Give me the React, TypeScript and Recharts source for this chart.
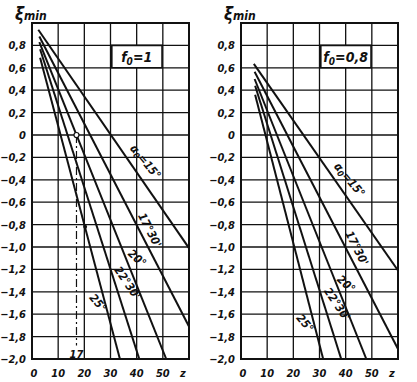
import React from "react";
import {
  LineChart,
  Line,
  XAxis,
  YAxis,
  CartesianGrid,
  ReferenceArea,
  ReferenceLine,
  ReferenceDot,
} from "recharts";

// axes
const Z_TICKS = [0, 10, 20, 30, 40, 50, 60];
const Z_LABELS = ["0", "10", "20", "30", "40", "50", "z"];
const XI_TICKS = [-2, -1.8, -1.6, -1.4, -1.2, -1, -0.8, -0.6, -0.4, -0.2, 0, 0.2, 0.4, 0.6, 0.8, 1];
const XI_LABELS = [
  "−2,0", "−1,8", "−1,6", "−1,4", "−1,2", "−1,0", "−0,8", "−0,6", "−0,4", "−0,2",
  "0", "0,2", "0,4", "0,6", "0,8", "",
];

// pressure angle of each line
const ALPHAS = ["15°", "17°30'", "20°", "22°30'", "25°"];

// f0 = 1 (left panel): first and last point of each line
const F1_START_Z = [2.4, 2.8, 2.8, 3.1, 3.1];
const F1_START_XI = [0.94, 0.88, 0.83, 0.765, 0.69];
const F1_END_Z = [60, 60, 51.3, 41, 33.6];
const F1_END_XI = [-1.01, -1.71, -2, -2, -2];

// f0 = 0,8 (right panel)
const F08_START_Z = [4.9, 5.2, 5.2, 5.4, 5.4];
const F08_START_XI = [0.635, 0.565, 0.5, 0.44, 0.36];
const F08_END_Z = [60, 60, 47.9, 38.3, 31.4];
const F08_END_XI = [-1.21, -1.91, -2, -2, -2];

// worked example on the left panel: z = 17
const EXAMPLE_Z = 17;

const FONT = "'Liberation Sans Narrow', 'DejaVu Sans Condensed', sans-serif";

type LabelPos = { z: number; xi: number; angle: number };

const LEFT_LABELS: LabelPos[] = [
  { z: 43.4, xi: -0.24, angle: 50 },
  { z: 45, xi: -0.85, angle: 63 },
  { z: 40.2, xi: -1.1, angle: 42 },
  { z: 36.5, xi: -1.32, angle: 56 },
  { z: 25.3, xi: -1.5, angle: 50 },
];

const RIGHT_LABELS: LabelPos[] = [
  { z: 41.5, xi: -0.4, angle: 50 },
  { z: 44.3, xi: -1.01, angle: 63 },
  { z: 40.2, xi: -1.33, angle: 42 },
  { z: 36.8, xi: -1.51, angle: 56 },
  { z: 24.5, xi: -1.68, angle: 50 },
];

function buildLines(sz: number[], sxi: number[], ez: number[], exi: number[]) {
  return ALPHAS.map((a, i) => ({
    name: a,
    points: [
      { z: sz[i], xi: sxi[i] },
      { z: ez[i], xi: exi[i] },
    ],
  }));
}

const textStyle = {
  fontFamily: FONT,
  fontStyle: "italic" as const,
  fontWeight: 700,
  fill: "#111",
};

function XTick(props: any) {
  const { x, y, payload } = props;
  const i = Z_TICKS.indexOf(payload.value);
  const shift = payload.value === 60 ? -6 : payload.value === 0 ? 2 : 0;
  return (
    <text x={x + shift} y={y + 10} textAnchor="middle" fontSize={11} style={textStyle}>
      {Z_LABELS[i]}
    </text>
  );
}

function YTick(props: any) {
  const { x, y, payload } = props;
  const i = XI_TICKS.findIndex((t) => Math.abs(t - payload.value) < 1e-6);
  return (
    <text x={x} y={y + 4} textAnchor="end" fontSize={11} style={textStyle}>
      {XI_LABELS[i]}
    </text>
  );
}

function lineLabel(text: string, angle: number, first: boolean) {
  return (p: any) => (
    <text
      x={p.cx}
      y={p.cy}
      textAnchor="middle"
      dominantBaseline="central"
      fontSize={11.5}
      transform={`rotate(${angle} ${p.cx} ${p.cy})`}
      style={textStyle}
    >
      {first ? (
        <>
          α<tspan fontSize={8.5} dy={3}>0</tspan>
          <tspan dy={-3}>={text}</tspan>
        </>
      ) : (
        text
      )}
    </text>
  );
}

function boxLabel(f0: string) {
  return (p: any) => (
    <text x={p.cx} y={p.cy + 5} textAnchor="middle" fontSize={14} style={textStyle}>
      f<tspan fontSize={10} dy={3}>0</tspan>
      <tspan dy={-3}>={f0}</tspan>
    </text>
  );
}

interface PanelProps {
  width: number;
  left: number;
  f0: string;
  lines: { name: string; points: { z: number; xi: number }[] }[];
  labels: LabelPos[];
  example?: boolean;
}

function Panel({ width, left, f0, lines, labels, example }: PanelProps) {
  return (
    <div style={{ position: "relative", width, height: 382 }}>
      <div
        style={{
          position: "absolute",
          left: left + 13,
          top: 4,
          fontFamily: FONT,
          fontStyle: "italic",
          fontWeight: 700,
          color: "#111",
          whiteSpace: "nowrap",
        }}
      >
        <span style={{ fontSize: 17 }}>ξ</span>
        <span style={{ fontSize: 12 }}>min</span>
      </div>
      <LineChart width={width} height={382} margin={{ left, right: 19, top: 23, bottom: 3 }}>
        <CartesianGrid stroke="#111" strokeWidth={1.3} />
        <XAxis
          dataKey="z"
          type="number"
          domain={[0, 60]}
          ticks={Z_TICKS}
          allowDataOverflow
          height={20}
          tickLine={false}
          axisLine={{ stroke: "#111", strokeWidth: 2 }}
          tick={<XTick />}
          interval={0}
        />
        <YAxis
          type="number"
          domain={[-2, 1]}
          ticks={XI_TICKS}
          allowDataOverflow
          width={30}
          tickLine={false}
          tickSize={0}
          tickMargin={6}
          axisLine={{ stroke: "#111", strokeWidth: 2 }}
          tick={<YTick />}
          interval={0}
        />
        <ReferenceArea x1={0} x2={60} y1={-2} y2={1} fill="none" stroke="#111" strokeWidth={2} />
        <ReferenceArea
          x1={30.5}
          x2={49.7}
          y1={0.6}
          y2={0.8}
          fill="#fff"
          fillOpacity={1}
          stroke="#111"
          strokeWidth={1.6}
        />
        <ReferenceDot x={40} y={0.7} r={0} shape={boxLabel(f0)} />
        {example && (
          <ReferenceLine
            segment={[
              { x: EXAMPLE_Z, y: 0 },
              { x: EXAMPLE_Z, y: -1.88 },
            ]}
            stroke="#111"
            strokeWidth={1.2}
            strokeDasharray="8 3 2 3"
          />
        )}
        {lines.map((l) => (
          <Line
            key={l.name}
            data={l.points}
            dataKey="xi"
            type="linear"
            stroke="#111"
            strokeWidth={2}
            dot={false}
            isAnimationActive={false}
          />
        ))}
        {example && (
          <ReferenceDot x={EXAMPLE_Z} y={0} r={2.5} fill="#fff" stroke="#111" strokeWidth={1.2} />
        )}
        {example && <ReferenceDot x={20.3} y={-0.82} r={2} fill="#111" stroke="none" />}
        {example && (
          <ReferenceDot
            x={EXAMPLE_Z}
            y={-1.955}
            r={0}
            shape={(p: any) => (
              <text x={p.cx} y={p.cy + 4} textAnchor="middle" fontSize={11} style={textStyle}>
                17
              </text>
            )}
          />
        )}
        {labels.map((lb, i) => (
          <ReferenceDot
            key={ALPHAS[i]}
            x={lb.z}
            y={lb.xi}
            r={0}
            shape={lineLabel(ALPHAS[i], lb.angle, i === 0)}
          />
        ))}
      </LineChart>
    </div>
  );
}

export default function App() {
  const leftLines = buildLines(F1_START_Z, F1_START_XI, F1_END_Z, F1_END_XI);
  const rightLines = buildLines(F08_START_Z, F08_START_XI, F08_END_Z, F08_END_XI);
  return (
    <div
      style={{
        position: "absolute",
        left: 0,
        top: 0,
        width: 417,
        height: 382,
        background: "#fff",
        display: "flex",
      }}
    >
      <Panel width={208} left={2} f0="1" lines={leftLines} labels={LEFT_LABELS} example />
      <Panel width={209} left={3} f0="0,8" lines={rightLines} labels={RIGHT_LABELS} />
    </div>
  );
}
